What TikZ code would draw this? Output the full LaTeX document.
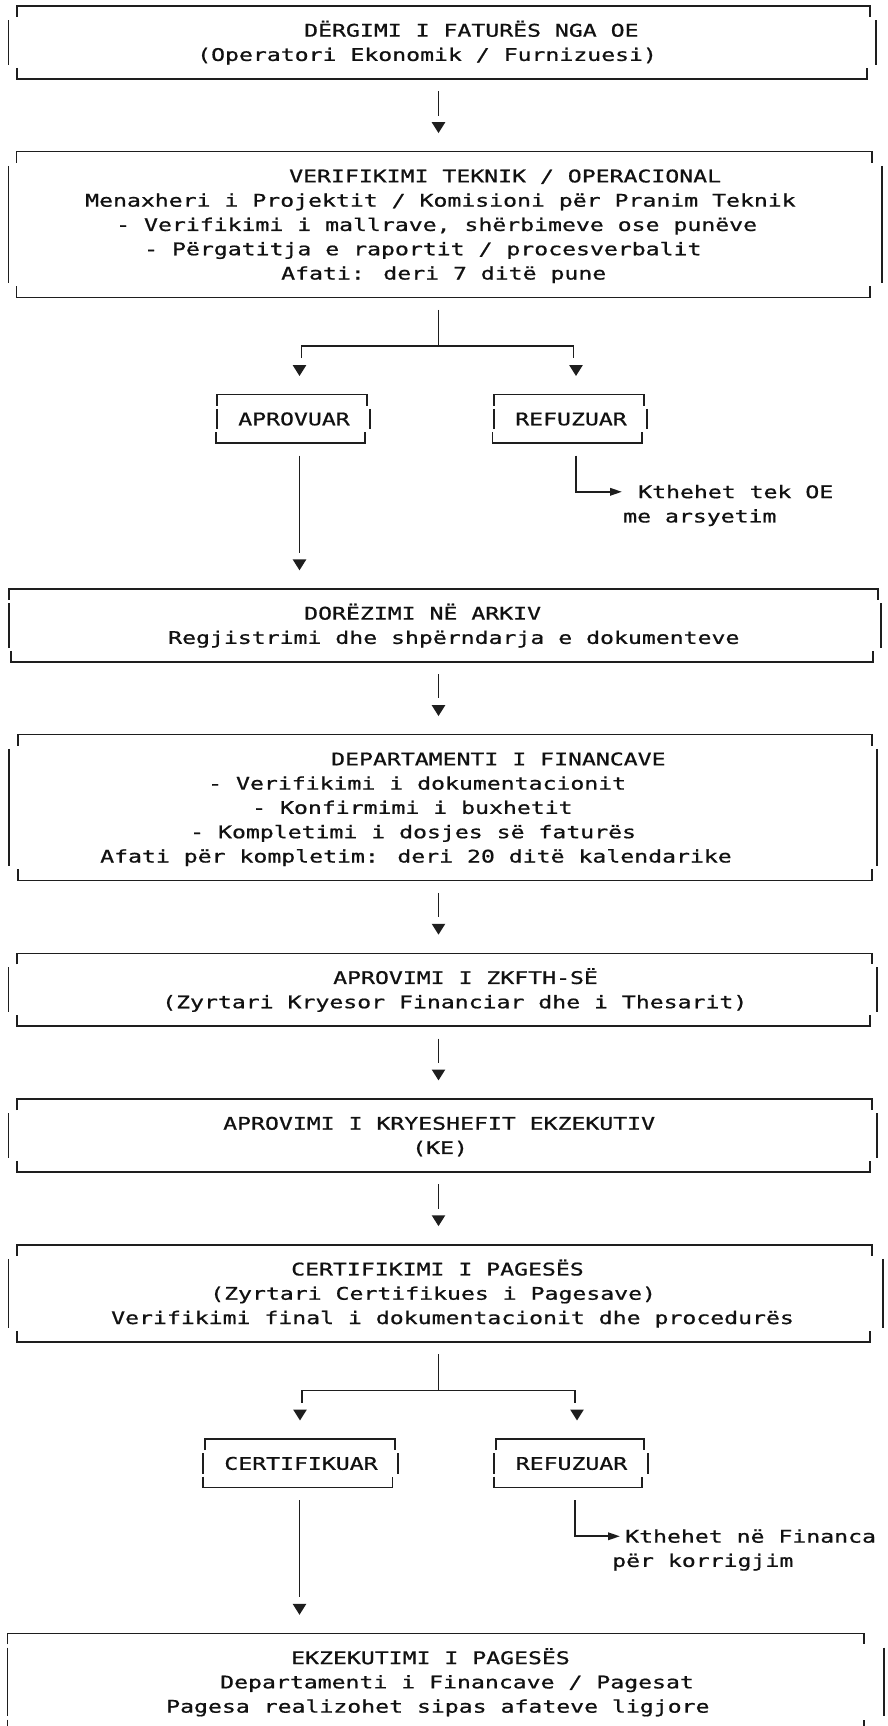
\documentclass[tikz,border=0pt]{standalone}
\usepackage{fontspec}
\newfontfamily\asciifont[FakeStretch=1.33,FakeBold=0.8]{DejaVu Sans Mono}
\usetikzlibrary{arrows.meta,fit,calc}
\definecolor{linecol}{HTML}{1E1E1E}
\definecolor{txtcol}{HTML}{111111}
\newcommand\rowy[1]{(6+24.29*(#1))}
\tikzset{
  boxline/.style={draw=linecol, line width=1.5pt},
  conn/.style={draw=linecol, line width=1.9pt},
  txt/.style={anchor=base west, inner sep=0pt, text=txtcol, font=\asciifont\fontsize{17.4pt}{20pt}\selectfont},
  ctxt/.style={txt, anchor=base},
  area/.style={inner sep=0pt, draw=none},
  pics/dn/.style={code={\fill[linecol] (-6.8,-5.2) -- (6.8,-5.2) -- (0,5.6) -- cycle;}}
}
% #1 name, #2 top row, #3 bottom row, #4 top-left x, #5 top-right x,
% #6 left bar x, #7 right bar x, #8 bottom-left x, #9 bottom-right x
\newcommand\abox[9]{%
  \coordinate (#1-a) at (#4,{\rowy{#2}});
  \coordinate (#1-b) at (#5,{\rowy{#3}});
  \node[area, fit=(#1-a)(#1-b)] (#1) {};
  \draw[boxline] (#4,{\rowy{#2}+11}) -- (#4,{\rowy{#2}}) -- (#5,{\rowy{#2}}) -- (#5,{\rowy{#2}+11});
  \draw[boxline] (#8,{\rowy{#3}-11}) -- (#8,{\rowy{#3}}) -- (#9,{\rowy{#3}}) -- (#9,{\rowy{#3}-11});
  \draw[boxline] (#6,{\rowy{#2+0.5}+2}) -- (#6,{\rowy{#3-0.5}-2});
  \draw[boxline] (#7,{\rowy{#2+0.5}+2}) -- (#7,{\rowy{#3-0.5}-2});
}
\begin{document}
\begin{tikzpicture}[x=1pt,y=-1pt]
\clip (0,0) rectangle (887,1726);
\fill[white] (0,0) rectangle (887,1726);

% ---------- boxes ----------
\abox{b1}{0}{3}{17}{870}{8.5}{876}{17}{867}
\abox{b2}{6}{12}{16.7}{872}{8.3}{882}{16.7}{870}
\abox{apr}{16}{18}{217}{367}{217}{370}{216}{365}
\abox{ref1}{16}{18}{494}{644}{494}{647}{492.5}{642}
\abox{dor}{24}{27}{9}{878}{9}{881}{11}{873}
\abox{dep}{30}{36}{18}{872}{8.8}{877}{18}{872}
\abox{zk}{39}{42}{17}{872}{8.5}{877}{17}{870}
\abox{ke}{45}{48}{17}{872}{8.5}{877}{17}{870}
\abox{cert}{51}{55}{17}{872}{8.5}{883}{17}{870}
\abox{cer}{59}{61}{205}{395}{203}{398}{203}{392.6}
\abox{ref2}{59}{61}{496}{644}{494}{648}{494}{642}
\abox{ekz}{67}{71}{7.3}{864}{7.3}{884}{7.3}{864}

% ---------- texts ----------
\node[txt] (t1a) at (304,{\rowy{1}+6.35}) {DËRGIMI I FATURËS NGA OE};
\node[txt] (t1b) at (197,{\rowy{2}+6.35}) {(Operatori Ekonomik / Furnizuesi)};

\node[txt] (t2a) at (289,{\rowy{7}+6.35}) {VERIFIKIMI TEKNIK / OPERACIONAL};
\node[txt] (t2b) at (85,{\rowy{8}+6.35}) {Menaxheri i Projektit / Komisioni për Pranim Teknik};
\node[txt] (t2c) at (116,{\rowy{9}+6.35}) {- Verifikimi i mallrave, shërbimeve ose punëve};
\node[txt] (t2d) at (144,{\rowy{10}+6.35}) {- Përgatitja e raportit / procesverbalit};
\node[txt] (t2e) at (281,{\rowy{11}+6.35}) {Afati: deri 7 ditë pune};

\node[ctxt] (tapr) at (294,{\rowy{17}+6.35}) {APROVUAR};
\node[ctxt] (tref1) at (571,{\rowy{17}+6.35}) {REFUZUAR};
\node[txt] (tk1a) at (638,{\rowy{20}+6.35}) {Kthehet tek OE};
\node[txt] (tk1b) at (623,{\rowy{21}+6.35}) {me arsyetim};

\node[txt] (t3a) at (304,{\rowy{25}+6.35}) {DORËZIMI NË ARKIV};
\node[txt] (t3b) at (168,{\rowy{26}+6.35}) {Regjistrimi dhe shpërndarja e dokumenteve};

\node[txt] (t4a) at (331,{\rowy{31}+6.35}) {DEPARTAMENTI I FINANCAVE};
\node[txt] (t4b) at (208,{\rowy{32}+6.35}) {- Verifikimi i dokumentacionit};
\node[txt] (t4c) at (252,{\rowy{33}+6.35}) {- Konfirmimi i buxhetit};
\node[txt] (t4d) at (190,{\rowy{34}+6.35}) {- Kompletimi i dosjes së faturës};
\node[txt] (t4e) at (100,{\rowy{35}+6.35}) {Afati për kompletim: deri 20 ditë kalendarike};

\node[txt] (t5a) at (333,{\rowy{40}+6.35}) {APROVIMI I ZKFTH-SË};
\node[txt] (t5b) at (162,{\rowy{41}+6.35}) {(Zyrtari Kryesor Financiar dhe i Thesarit)};

\node[txt] (t6a) at (223,{\rowy{46}+6.35}) {APROVIMI I KRYESHEFIT EKZEKUTIV};
\node[txt] (t6b) at (412,{\rowy{47}+6.35}) {(KE)};

\node[txt] (t7a) at (291,{\rowy{52}+6.35}) {CERTIFIKIMI I PAGESËS};
\node[txt] (t7b) at (210,{\rowy{53}+6.35}) {(Zyrtari Certifikues i Pagesave)};
\node[txt] (t7c) at (111,{\rowy{54}+6.35}) {Verifikimi final i dokumentacionit dhe procedurës};

\node[ctxt] (tcer) at (301,{\rowy{60}+6.35}) {CERTIFIKUAR};
\node[ctxt] (tref2) at (571.5,{\rowy{60}+6.35}) {REFUZUAR};
\node[txt] (tk2a) at (625,{\rowy{63}+6.35}) {Kthehet në Financa};
\node[txt] (tk2b) at (612,{\rowy{64}+6.35}) {për korrigjim};

\node[txt] (t8a) at (291,{\rowy{68}+6.35}) {EKZEKUTIMI I PAGESËS};
\node[txt] (t8b) at (220,{\rowy{69}+6.35}) {Departamenti i Financave / Pagesat};
\node[txt] (t8c) at (166,{\rowy{70}+6.35}) {Pagesa realizohet sipas afateve ligjore};

% ---------- connectors ----------
\coordinate (v1) at (438.5,{\rowy{5}});
\draw[conn] ($(b1.south -| v1)+(0,12.15)$) -- ++(0,24.29);
\pic at (v1) {dn};

\coordinate (j1) at (438.5,{\rowy{14}});
\coordinate (j1l) at (301.5,{\rowy{14}});
\coordinate (j1r) at (573.5,{\rowy{14}});
\draw[conn] ($(b2.south -| j1)+(0,12.15)$) -- (j1);
\draw[conn] ($(j1l)+(0,12)$) -- (j1l) -- (j1r) -- ($(j1r)+(0,12)$);
\coordinate (a1) at (299.5,{\rowy{15}});
\coordinate (a2) at (576,{\rowy{15}});
\pic at (a1) {dn};
\pic at (a2) {dn};

\coordinate (v2) at (299.5,{\rowy{23}});
\draw[conn] ($(apr.south -| v2)+(0,12.15)$) -- ($(v2)+(0,-12.15)$);
\pic at (v2) {dn};

\coordinate (r1c) at (576,{\rowy{20}});
\coordinate (k1) at (622,{\rowy{20}});
\draw[conn, -{Triangle[width=7.5pt,length=12pt]}] ($(ref1.south -| r1c)+(0,12.15)$) -- (r1c) -- (k1);

\coordinate (v4) at (438.5,{\rowy{29}});
\draw[conn] ($(dor.south -| v4)+(0,12.15)$) -- ++(0,24.29);
\pic at (v4) {dn};

\coordinate (v5) at (438.5,{\rowy{38}});
\draw[conn] ($(dep.south -| v5)+(0,12.15)$) -- ++(0,24.29);
\pic at (v5) {dn};

\coordinate (v6) at (438.5,{\rowy{44}});
\draw[conn] ($(zk.south -| v6)+(0,12.15)$) -- ++(0,24.29);
\pic at (v6) {dn};

\coordinate (v7) at (438.5,{\rowy{50}});
\draw[conn] ($(ke.south -| v7)+(0,12.15)$) -- ++(0,24.29);
\pic at (v7) {dn};

\coordinate (j2) at (438.5,{\rowy{57}});
\coordinate (j2l) at (302,{\rowy{57}});
\coordinate (j2r) at (575,{\rowy{57}});
\draw[conn] ($(cert.south -| j2)+(0,12.15)$) -- (j2);
\draw[conn] ($(j2l)+(0,12)$) -- (j2l) -- (j2r) -- ($(j2r)+(0,12)$);
\coordinate (a3) at (300,{\rowy{58}});
\coordinate (a4) at (577,{\rowy{58}});
\pic at (a3) {dn};
\pic at (a4) {dn};

\coordinate (v3) at (299.5,{\rowy{66}});
\draw[conn] ($(cer.south -| v3)+(0,12.15)$) -- ($(v3)+(0,-12.15)$);
\pic at (v3) {dn};

\coordinate (r2c) at (575,{\rowy{63}});
\coordinate (k2) at (620,{\rowy{63}});
\draw[conn, -{Triangle[width=7.5pt,length=12pt]}] ($(ref2.south -| r2c)+(0,12.15)$) -- (r2c) -- (k2);
\end{tikzpicture}
\end{document}
